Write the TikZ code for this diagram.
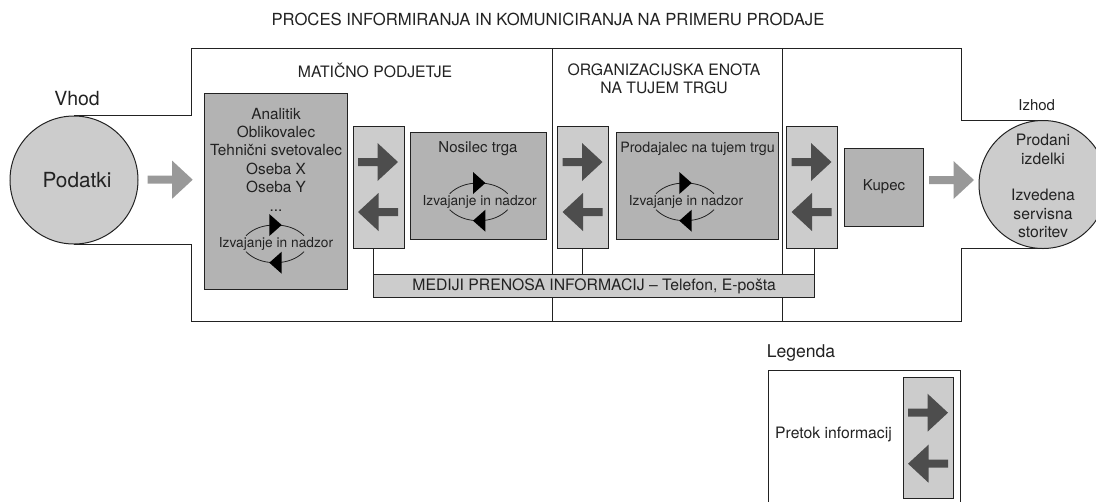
\documentclass[tikz,border=0pt]{standalone}
\usepackage{fontspec}
\setmainfont{TeX Gyre Heros}
\def\pxu{0.75pt}
\definecolor{ink}{HTML}{222222}
\definecolor{lightbox}{HTML}{CCCCCC}
\definecolor{midbox}{HTML}{B3B3B3}
\definecolor{darkarrow}{HTML}{4D4D4D}
\definecolor{greyarrow}{HTML}{999999}
\tikzset{
  outline/.style={draw=ink,line width=\pxu},
  label/.style={text=ink,inner sep=0pt,align=center,font=\fontsize{11.25}{13.8}\selectfont},
  biglabel/.style={label,font=\fontsize{11.8}{13.8}\selectfont},
  cyclelabel/.style={label,font=\fontsize{10.3}{12}\selectfont},
  panel/.style={outline,fill=midbox,inner sep=0pt},
  infobox/.style={outline,fill=lightbox,inner sep=0pt,minimum width=50.5*\pxu,minimum height=122*\pxu},
  disc/.style={outline,fill=lightbox,circle,inner sep=0pt,minimum size=128*\pxu},
  flowright/.pic={\fill[darkarrow] (-20,-4) -- (-0.5,-4) -- (-0.5,-19) -- (20,0) -- (-0.5,19) -- (-0.5,4) -- (-20,4) -- cycle;},
  flowleft/.pic={\fill[darkarrow] (20,-4) -- (0.5,-4) -- (0.5,-19) -- (-20,0) -- (0.5,19) -- (0.5,4) -- (20,4) -- cycle;},
  bigflow/.pic={\fill[greyarrow] (-22.5,-4) -- (2,-4) -- (2,-19) -- (22.5,0) -- (2,19) -- (2,4) -- (-22.5,4) -- cycle;},
  cyclepic/.pic={
    \draw[ink,line width=0.6pt] (-29,-8) .. controls (-22,-15) and (-12,-18.7) .. (0,-18.7) .. controls (12,-18.7) and (22,-15) .. (29,-8);
    \draw[ink,line width=0.6pt] (-29,8) .. controls (-22,15) and (-12,19) .. (0,19) .. controls (12,19) and (22,15) .. (29,8);
    \fill[black] (-5.7,-29.7) -- (6.7,-18.7) -- (-5.7,-7.7) -- cycle;
    \fill[black] (6.7,8) -- (6.7,30) -- (-5.7,19) -- cycle;
  }
}
\begin{document}
\begin{tikzpicture}[x=\pxu,y=-\pxu]
\clip (0,0) rectangle (1096,501);
\useasboundingbox (0,0) rectangle (1096,501);

% frame and dividers
\draw[outline] (74,115.7) -- (191,115.7) -- (191,48) -- (961,48) -- (961,120.7) -- (1043,120.7);
\draw[outline] (74,244) -- (191,244) -- (191,321) -- (961,321) -- (961,248.3) -- (1043,248.3);
\coordinate (d1t) at (552,48); \coordinate (d1b) at (552,321);
\coordinate (d2t) at (782,48); \coordinate (d2b) at (782,321);
\draw[outline] (d1t) -- (d1b);
\draw[outline] (d2t) -- (d2b);

% discs
\node[disc] (vhoddisc) at (74,180) {};
\node[disc] (izhoddisc) at (1043,184.5) {};
\node[label,font=\fontsize{15.6}{18}\selectfont] (podatki) at (77,180) {Podatki};
\node[biglabel] (izhodtext) at (1043,186) {Prodani\\izdelki\\[13.8pt]Izvedena\\servisna\\storitev};
\node[label,font=\fontsize{14.6}{16}\selectfont] (vhod) at (77,99) {Vhod};
\node[label] (izhod) at (1036.7,105) {Izhod};

% texts above
\node[label,font=\fontsize{12.5}{14}\selectfont] (title) at (548,19) {PROCES INFORMIRANJA IN KOMUNICIRANJA NA PRIMERU PRODAJE};
\node[biglabel] (hq) at (375,70) {MATIČNO PODJETJE};
\node[biglabel] (unit) at (664,78.5) {ORGANIZACIJSKA ENOTA\\NA TUJEM TRGU};

% panels
\node[panel,minimum width=143*\pxu,minimum height=196*\pxu] (p1) at (276,191) {};
\node[label,font=\fontsize{11.5}{13.8}\selectfont] (p1t) at (276,159.5) {Analitik\\Oblikovalec\\Tehnični svetovalec\\Oseba X\\Oseba Y\\...};
\pic at (275,243.7) {cyclepic};
\node[cyclelabel] (p1c) at (276,244) {Izvajanje in nadzor};

\node[panel,minimum width=136*\pxu,minimum height=107*\pxu] (p2) at (478,185.5) {};
\node[label] (p2t) at (478,149) {Nosilec trga};
\pic at (478.7,201.7) {cyclepic};
\node[cyclelabel] (p2c) at (479.7,201.7) {Izvajanje in nadzor};

\node[panel,minimum width=162*\pxu,minimum height=107*\pxu] (p3) at (697,185.5) {};
\node[label,font=\fontsize{10.7}{13.8}\selectfont] (p3t) at (697.5,149) {Prodajalec na tujem trgu};
\pic at (685,201.7) {cyclepic};
\node[cyclelabel] (p3c) at (686,201.7) {Izvajanje in nadzor};

\node[panel,minimum width=79*\pxu,minimum height=78.3*\pxu] (kupec) at (884.2,187.8) {};
\node[label] (kupect) at (884,187) {Kupec};

% information boxes
\node[infobox] (a1) at (378.8,187) {};
\node[infobox] (a2) at (582.8,187) {};
\node[infobox] (a3) at (811.9,187) {};
\pic at (378,162) {flowright};
\pic at (378,212) {flowleft};
\pic at (582.5,162) {flowright};
\pic at (582.5,212) {flowleft};
\pic at (811.5,162) {flowright};
\pic at (811.5,212) {flowleft};

% media bar
\node[infobox,minimum width=440.5*\pxu,minimum height=23*\pxu] (bar) at (593.75,286.2) {};
\node[biglabel] (bart) at (594.2,286) {MEDIJI PRENOSA INFORMACIJ – Telefon, E-pošta};
\draw[outline] (bar.north west |- a1.south) -- (bar.north west);
\draw[outline] (a2.south) -- (a2.south |- bar.north);
\draw[outline] (bar.north east |- a3.south) -- (bar.north east);

% grey flow arrows
\pic at (170.2,179.7) {bigflow};
\pic at (951.5,180) {bigflow};

% legend
\node[label,font=\fontsize{13.2}{15}\selectfont,anchor=west] (legt) at (766.5,352.7) {Legenda};
\draw[outline] (768.3,510) -- (768.3,370.7) -- (960,370.7) -- (960,510);
\node[biglabel] (legp) at (833.5,434) {Pretok informacij};
\node[infobox,minimum height=121.3*\pxu,minimum width=50*\pxu] (lega) at (928.3,437.7) {};
\pic at (928,412.7) {flowright};
\pic at (928,463.7) {flowleft};
\end{tikzpicture}
\end{document}
